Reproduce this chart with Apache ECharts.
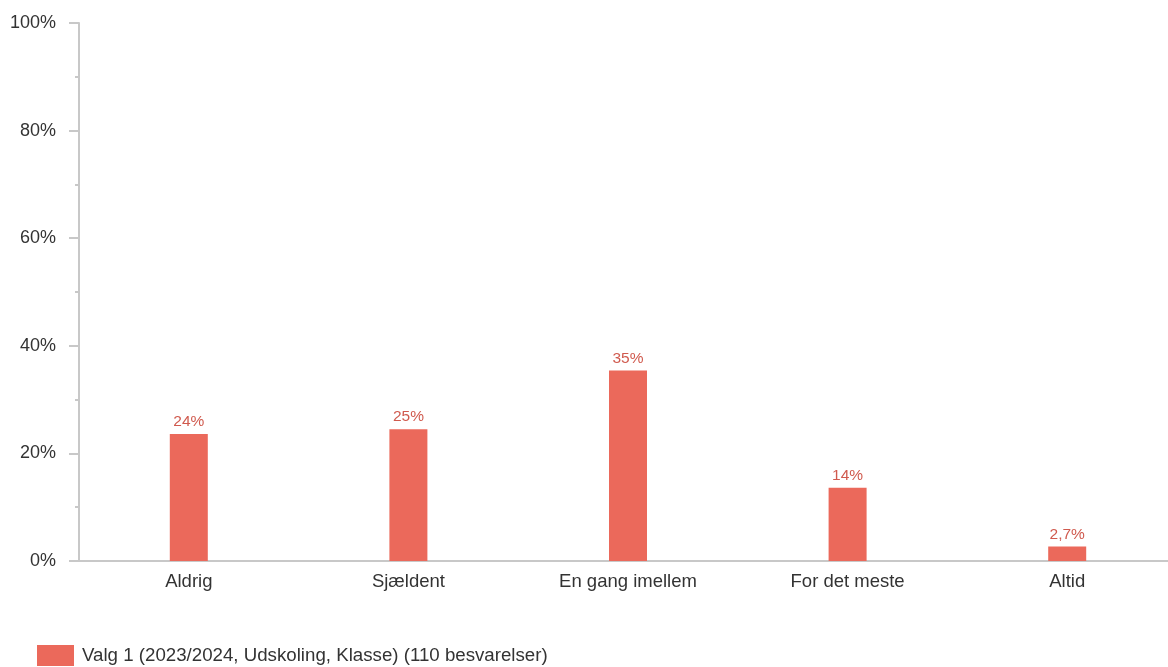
<!DOCTYPE html>
<html>
<head>
<meta charset="utf-8">
<script src="https://cdn.jsdelivr.net/npm/echarts@6/dist/echarts.min.js"></script>
<style>html,body{margin:0;padding:0;background:#fff;overflow:hidden;width:1168px;height:667px}#c{width:1177px;height:667px}</style>
</head>
<body>
<div id="c"></div>
<script>
const categories = ["Aldrig", "Sjældent", "En gang imellem", "For det meste", "Altid"];
const values = [23.6, 24.5, 35.4, 13.6, 2.7];
const seriesName = "Valg 1 (2023/2024, Udskoling, Klasse) (110 besvarelser)";
const yTicks = [0, 20, 40, 60, 80, 100];

const chart = echarts.init(document.getElementById('c'));
chart.setOption({
  animation: false,
  textStyle: { fontFamily: 'Liberation Sans, Arial, sans-serif' },
  grid: { left: 79, right: 0, top: 23, bottom: 106, containLabel: false },
  legend: {
    left: 37, top: 645, padding: 0, itemWidth: 37, itemHeight: 21, itemGap: 10,
    icon: 'rect',
    textStyle: { fontSize: 18.7, color: '#333', padding: [0, 0, 0, 3] },
    data: [seriesName]
  },
  xAxis: {
    type: 'category', data: categories,
    axisLine: { lineStyle: { color: '#c8c8c8', width: 2 } },
    axisTick: { show: false },
    axisLabel: { fontSize: 18.5, color: '#333', margin: 11 }
  },
  yAxis: {
    type: 'value', min: yTicks[0], max: yTicks[yTicks.length - 1], interval: 20,
    axisLine: { show: true, lineStyle: { color: '#c8c8c8', width: 2 } },
    axisTick: { show: true, length: 10, lineStyle: { color: '#c8c8c8', width: 2 } },
    minorTick: { show: true, splitNumber: 2, length: 4, lineStyle: { color: '#c8c8c8', width: 2 } },
    splitLine: { show: false },
    axisLabel: { fontSize: 18, color: '#333', margin: 23, formatter: v => v + '%' }
  },
  series: [{
    name: seriesName, type: 'bar', data: values, barWidth: 38,
    itemStyle: { color: '#EB695B' },
    label: {
      show: true, position: 'top', distance: 4, fontSize: 15.5, color: '#D05A4E',
      formatter: p => (p.value < 10 ? p.value.toFixed(1).replace('.', ',') : Math.round(p.value)) + '%'
    }
  }]
});
</script>
</body>
</html>
